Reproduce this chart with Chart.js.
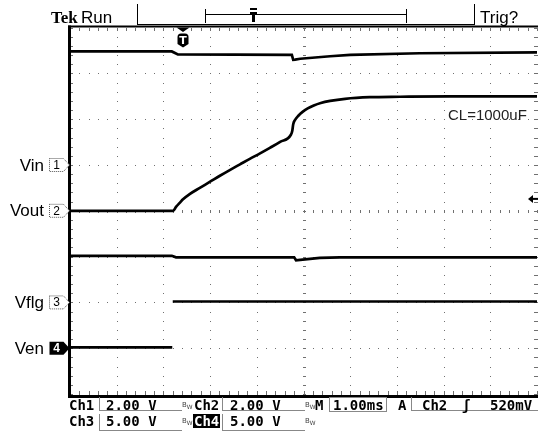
<!DOCTYPE html>
<html>
<head>
<meta charset="utf-8">
<script src="https://cdn.jsdelivr.net/npm/chart.js@4.4.1/dist/chart.umd.min.js"></script>
<style>
  html, body { margin: 0; padding: 0; background: #fff; }
  #wrap { position: relative; width: 538px; height: 432px; overflow: hidden; }
  #scope { position: absolute; left: 0; top: 0; }
  .t { position: absolute; white-space: nowrap; line-height: 1; color: #000; }
  .hdr { font-family: "Liberation Sans", Arial, sans-serif; font-size: 17px; }
  .tek { font-family: "Liberation Serif", serif; font-weight: bold; font-size: 17px; }
  .lbl { font-family: "Liberation Sans", Arial, sans-serif; font-size: 17px; right: 494px; }
  .mk { font-family: "Liberation Sans", Arial, sans-serif; font-size: 12px; left: 49px; width: 15px; text-align: center; }
  .st { font-family: "DejaVu Sans Mono", monospace; font-weight: bold; font-size: 14px; }
  .bw { font-family: "DejaVu Sans", sans-serif; font-size: 7px; color: #444; }
  .box { position: absolute; border-left: 1px solid #888; border-bottom: 1px solid #888; }
</style>
</head>
<body>
<div id="wrap">
  <canvas id="scope" width="538" height="432"></canvas>

  <span class="t tek" style="left:51px;top:8.5px">Tek</span>
  <span class="t hdr" style="left:81px;top:8.6px">Run</span>
  <span class="t hdr" style="left:480px;top:8.6px">Trig?</span>

  <span class="t lbl ch">Vin</span>
  <span class="t lbl ch">Vout</span>
  <span class="t lbl ch">Vflg</span>
  <span class="t lbl ch">Ven</span>
  <span class="t mk">1</span>
  <span class="t mk">2</span>
  <span class="t mk">3</span>
  <span class="t mk" style="color:#fff;font-weight:bold">4</span>
  <span class="t" id="trigT" style="font-family:'DejaVu Sans',sans-serif;font-weight:bold;font-size:11px;color:#fff;top:35px;width:12px;text-align:center">T</span>

  <span class="t hdr" style="left:448px;top:106.5px;font-size:15px;color:#222">CL=1000uF</span>

  <!-- status rows -->
  <div class="box" style="left:99px;top:397px;width:82px;height:13px"></div>
  <div class="box" style="left:222px;top:397px;width:82px;height:13px"></div>
  <div class="box" style="left:329px;top:397px;width:56px;height:13px;border:1px solid #888"></div>
  <div class="box" style="left:411px;top:397px;width:127px;height:13px"></div>
  <div class="box" style="left:99px;top:414px;width:82px;height:16px"></div>
  <div class="box" style="left:222px;top:414px;width:82px;height:16px"></div>

  <span class="t st" style="left:69px;top:397.5px">Ch1</span>
  <span class="t st" style="left:106px;top:397.5px">2.00 V</span>
  <span class="t bw" style="left:182px;top:402px">B<sub>W</sub></span>
  <span class="t st" style="left:194px;top:397.5px">Ch2</span>
  <span class="t st" style="left:230px;top:397.5px">2.00 V</span>
  <span class="t bw" style="left:305px;top:402px">B<sub>W</sub></span>
  <span class="t st" style="left:315px;top:397.5px">M</span>
  <span class="t st" style="left:333px;top:397.5px">1.00ms</span>
  <span class="t st" style="left:398px;top:397.5px">A</span>
  <span class="t st" style="left:422px;top:397.5px">Ch2</span>
  <span class="t st" style="left:462px;top:397.5px">ʃ</span>
  <span class="t st" style="left:490px;top:397.5px">520mV</span>

  <span class="t st" style="left:69px;top:414px">Ch3</span>
  <span class="t st" style="left:106px;top:414px">5.00 V</span>
  <span class="t bw" style="left:182px;top:418px">B<sub>W</sub></span>
  <span class="t st" style="left:193px;top:414px;background:#000;color:#fff;padding:0 1px">Ch4</span>
  <span class="t st" style="left:230px;top:414px">5.00 V</span>
  <span class="t bw" style="left:305px;top:418px">B<sub>W</sub></span>
</div>

<script>
// Tek capture: load switch turn-on, CL = 1000uF
const channelNames = ['Vin', 'Vout', 'Vflg', 'Ven'];
const voltsPerDiv = [2, 2, 5, 5];
const channelPos = [1, 0, -2, -3];   // ground marker, divisions from centre

// 1.00 ms/div, trigger at t = 0
const timeMin = -2.42;
const timeMax = 7.58;
const trigLevel = 0.52;   // V on Ch2

const vinTime  = [-2.42, -0.24, -0.11, 2.33, 2.36, 2.40, 2.51, 3.15, 3.58, 5.07, 7.58];
const vinVolts = [4.96, 4.96, 4.83, 4.81, 4.59, 4.60, 4.64, 4.75, 4.81, 4.88, 4.92];

const voutTime  = [-2.42, -0.21, -0.15, -0.06, 0, 0.15, 0.36, 0.58, 0.79, 1.01, 1.22, 1.43, 1.65, 1.86, 2.08, 2.31,
                   2.34, 2.36, 2.40, 2.47, 2.56, 2.67, 2.80, 2.95, 3.15, 3.47, 4.00, 4.65, 5.72, 7.58];
const voutVolts = [0, 0, 0.17, 0.37, 0.50, 0.74, 1.00, 1.27, 1.53, 1.79, 2.03, 2.27, 2.51, 2.75, 3.01, 3.32,
                   3.50, 3.78, 3.97, 4.15, 4.32, 4.47, 4.60, 4.71, 4.80, 4.89, 4.96, 4.98, 5.00, 5.00];

const vflgTime  = [-2.42, -0.24, -0.15, 2.38, 2.42, 2.51, 2.93, 3.36, 7.58];
const vflgVolts = [5.09, 5.09, 4.92, 4.92, 4.60, 4.65, 4.87, 4.92, 4.92];

const venTime  = [-2.42, -0.23, -0.225, -0.22, 7.58];
const venVolts = [0.1, 0.1, null, 5.1, 5.1];

const times = [vinTime, voutTime, vflgTime, venTime];
const volts = [vinVolts, voutVolts, vflgVolts, venVolts];

const datasets = times.map((t, c) => ({
  label: channelNames[c],
  data: t.map((x, i) => ({
    x,
    y: volts[c][i] === null ? null : channelPos[c] + volts[c][i] / voltsPerDiv[c]
  })),
  borderColor: '#000',
  borderWidth: 2.7,
  pointRadius: 0,
  tension: 0,
  cubicInterpolationMode: c === 1 ? 'monotone' : 'default',
  spanGaps: false
}));

const scopeScreen = {
  id: 'scopeScreen',
  beforeDatasetsDraw(chart) {
    const { ctx, chartArea: a, scales: { x, y } } = chart;
    const xs = [], ys = [];
    for (let i = 0; i <= 50; i++) xs.push(Math.round(x.getPixelForValue(timeMin + i / 5)));
    for (let j = 0; j <= 40; j++) ys.push(Math.round(y.getPixelForValue(-4 + j / 5)));
    ctx.save();
    ctx.fillStyle = '#707070';
    // dotted graticule: a dot every 0.2 div on each division line
    xs.forEach((px, i) => ys.forEach((py, j) => {
      if (i % 5 === 0 || j % 5 === 0) ctx.fillRect(px, py, 1, 1);
    }));
    // minor ticks on centre lines and edges
    const cx = xs[25], cy = ys[20];
    const top = Math.round(a.top), bot = Math.round(a.bottom), lft = Math.round(a.left), rgt = Math.round(a.right);
    xs.forEach(px => {
      ctx.fillRect(px, cy - 1, 1, 3);
      ctx.fillRect(px, top, 1, 3);
      ctx.fillRect(px, bot - 3, 1, 3);
    });
    ys.forEach(py => {
      ctx.fillRect(cx - 1, py, 3, 1);
      ctx.fillRect(lft, py, 3, 1);
      ctx.fillRect(rgt - 3, py, 3, 1);
    });
    ctx.restore();
  },
  afterDatasetsDraw(chart) {
    const { ctx, scales: { x, y } } = chart;
    ctx.save();
    ctx.fillStyle = '#000';
    // screen border
    ctx.fillRect(68, 25.5, 470, 2);
    ctx.fillRect(68, 25.5, 3, 372);
    ctx.fillRect(68, 395, 470, 3);

    // header separators and record bracket
    ctx.fillRect(137, 24, 337, 1);
    ctx.fillRect(137, 4, 1, 21);
    ctx.fillRect(474, 4, 1, 21);
    ctx.fillRect(205, 9, 1, 14);
    ctx.fillRect(205, 14, 201, 1);
    ctx.fillRect(406, 9, 1, 14);
    const rx = 253;
    ctx.fillRect(rx - 3, 8, 7, 2);
    ctx.fillRect(rx - 3, 12, 7, 2);
    ctx.fillRect(rx - 1, 12, 3, 10);

    // channel ground markers
    channelPos.forEach((p, c) => {
      const py = y.getPixelForValue(p);
      ctx.beginPath();
      ctx.moveTo(49.5, py - 6.5);
      ctx.lineTo(63.5, py - 6.5);
      ctx.lineTo(69.5, py);
      ctx.lineTo(63.5, py + 6.5);
      ctx.lineTo(49.5, py + 6.5);
      ctx.closePath();
      if (c === 3) {
        ctx.fillStyle = '#000';
        ctx.fill();
      } else {
        ctx.fillStyle = '#fff';
        ctx.fill();
        ctx.strokeStyle = '#555';
        ctx.lineWidth = 1;
        ctx.setLineDash([1, 1]);
        ctx.stroke();
        ctx.setLineDash([]);
      }
    });

    // trigger position marker
    const tx = x.getPixelForValue(0);
    ctx.fillStyle = '#000';
    ctx.beginPath();
    ctx.moveTo(tx - 6.5, 27.5);
    ctx.lineTo(tx + 6.5, 27.5);
    ctx.lineTo(tx, 32);
    ctx.closePath();
    ctx.fill();
    ctx.beginPath();
    ctx.moveTo(tx - 5.5, 37);
    ctx.quadraticCurveTo(tx - 5.5, 33.5, tx - 2, 33.5);
    ctx.lineTo(tx + 2, 33.5);
    ctx.quadraticCurveTo(tx + 5.5, 33.5, tx + 5.5, 37);
    ctx.lineTo(tx + 5.5, 44);
    ctx.lineTo(tx, 47.5);
    ctx.lineTo(tx - 5.5, 44);
    ctx.closePath();
    ctx.fill();

    // trigger level arrow (Ch2)
    const ly = y.getPixelForValue(channelPos[1] + trigLevel / voltsPerDiv[1]);
    ctx.beginPath();
    ctx.moveTo(528, ly);
    ctx.lineTo(533, ly - 4);
    ctx.lineTo(533, ly + 4);
    ctx.closePath();
    ctx.fill();
    ctx.fillRect(532, ly - 1, 6, 2);
    ctx.restore();
  }
};

const chart = new Chart(document.getElementById('scope'), {
  type: 'line',
  data: { datasets },
  options: {
    responsive: false,
    animation: false,
    devicePixelRatio: 1,
    events: [],
    layout: { padding: { left: 70, right: 1, top: 27.6, bottom: 38 } },
    plugins: { legend: { display: false }, tooltip: { enabled: false } },
    scales: {
      x: { type: 'linear', min: timeMin, max: timeMax, display: false },
      y: { type: 'linear', min: -4, max: 4, display: false }
    }
  },
  plugins: [scopeScreen]
});

// place marker labels from the chart's own scales
const markY = channelPos.map(p => chart.scales.y.getPixelForValue(p));
document.querySelectorAll('.ch').forEach((el, i) => { el.style.top = (markY[i] - 8.4) + 'px'; });
document.querySelectorAll('.mk').forEach((el, i) => { el.style.top = (markY[i] - 6) + 'px'; });
document.getElementById('trigT').style.left = (chart.scales.x.getPixelForValue(0) - 6) + 'px';
</script>
</body>
</html>
